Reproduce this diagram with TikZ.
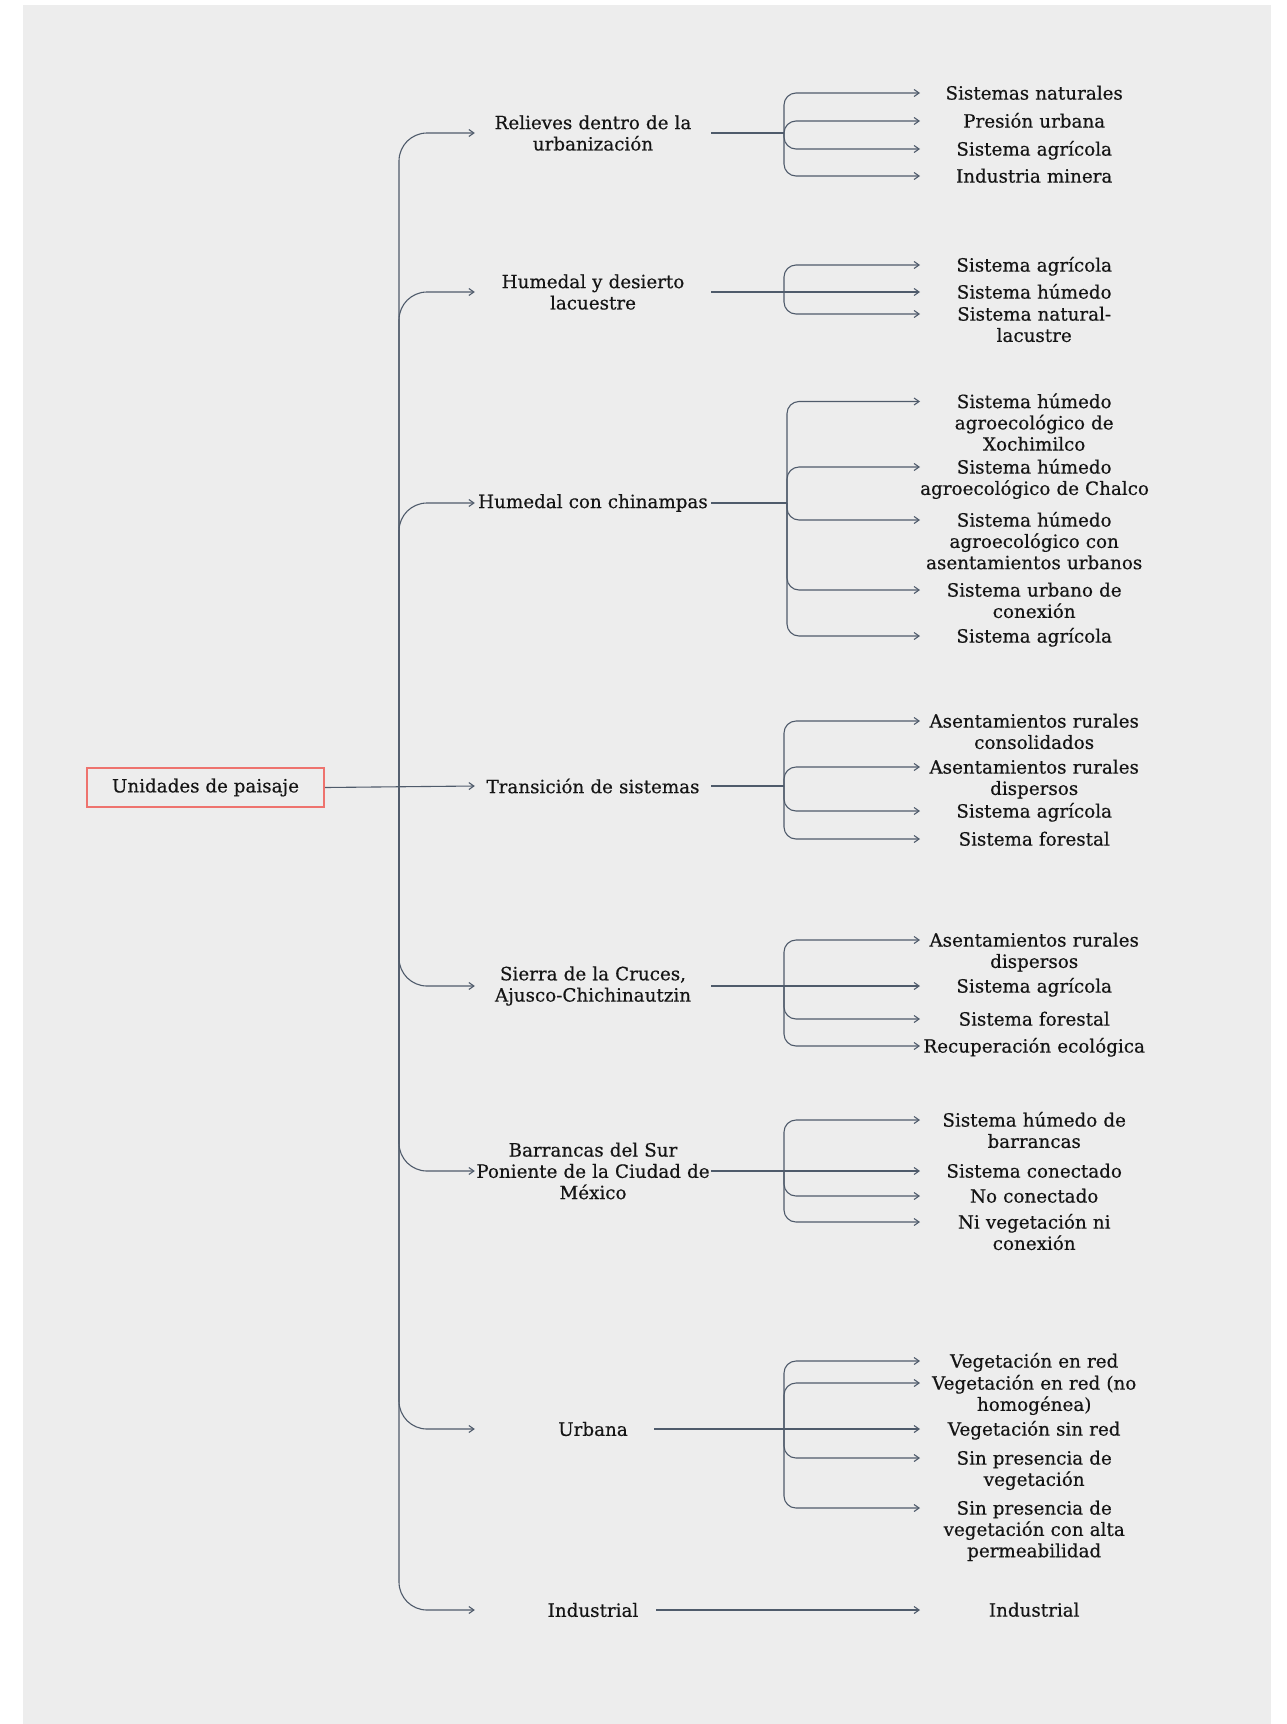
\documentclass[tikz,border=0pt]{standalone}
\usepackage{fontspec}
\setmainfont{DejaVu Serif}[FakeBold=0.45]
\usetikzlibrary{arrows.meta}
\definecolor{bg}{HTML}{EDEDED}
\definecolor{ln}{HTML}{4F5B6B}
\definecolor{rootc}{HTML}{EE736E}
\definecolor{txt}{HTML}{151515}
\begin{document}
\begin{tikzpicture}[x=1pt,y=-1pt,
  every node/.style={font=\fontsize{18.3}{21.3}\selectfont, text=txt, inner sep=0pt},
  rootbox/.style={draw=rootc, line width=2pt, minimum width=237pt, minimum height=39pt},
  parent/.style={text width=236pt, align=center},
  leaf/.style={text width=228pt, align=center, anchor=mid west},
  link/.style={draw=ln, line width=1.1pt},
  arr/.style={link, -{Straight Barb[length=5pt,width=7pt]}},
  trunkarr/.style={arr, rounded corners=28pt},
  brancharr/.style={arr, rounded corners=12pt},
  tip/.style={yshift=4pt},
]
\useasboundingbox (0,0) rectangle (1287,1724);
\fill[white] (0,0) rectangle (1287,1724);
\fill[bg] (23,5) rectangle (1271,1724);

% root
\node[rootbox] (root) at (205.5,787.5) {Unidades de paisaje};
\coordinate (J0) at (399,787.5);

% parents
\node[parent] (p1) at (593,133) {Relieves dentro de la\\urbanización};
\node[parent] (p2) at (593,292) {Humedal y desierto\\lacuestre};
\node[parent] (p3) at (593,503) {Humedal~con~chinampas};
\node[parent] (p4) at (593,786) {Transición de sistemas};
\node[parent] (p5) at (593,986) {Sierra de la Cruces,\\Ajusco-Chichinautzin};
\node[parent] (p6) at (593,1171) {Barrancas del Sur\\Poniente~de~la~Ciudad~de\\México};
\node[parent] (p7) at (593,1429) {Urbana};
\node[parent] (p8) at (593,1610) {Industrial};

% junctions
\coordinate (J1) at (784,133);
\coordinate (J2) at (784,292);
\coordinate (J3) at (787,503);
\coordinate (J4) at (784,786);
\coordinate (J5) at (784,986);
\coordinate (J6) at (784,1171);
\coordinate (J7) at (784,1429);

% leaves (node placed 4 below the arrow line)
\node[leaf] (l11) at (920,97) {Sistemas naturales};
\node[leaf] (l12) at (920,125) {Presión urbana};
\node[leaf] (l13) at (920,153) {Sistema agrícola};
\node[leaf] (l14) at (920,180) {Industria minera};

\node[leaf] (l21) at (920,269) {Sistema agrícola};
\node[leaf] (l22) at (920,296) {Sistema húmedo};
\node[leaf] (l23) at (920,318) {Sistema natural-\\lacustre};

\node[leaf] (l31) at (920,405.5) {Sistema húmedo\\agroecológico de\\Xochimilco};
\node[leaf] (l32) at (920,471) {Sistema húmedo\\agroecológico~de~Chalco};
\node[leaf] (l33) at (920,524) {Sistema húmedo\\agroecológico con\\asentamientos~urbanos};
\node[leaf] (l34) at (920,594) {Sistema urbano de\\conexión};
\node[leaf] (l35) at (920,640) {Sistema agrícola};

\node[leaf] (l41) at (920,725) {Asentamientos~rurales\\consolidados};
\node[leaf] (l42) at (920,771) {Asentamientos~rurales\\dispersos};
\node[leaf] (l43) at (920,815) {Sistema agrícola};
\node[leaf] (l44) at (920,843) {Sistema forestal};

\node[leaf] (l51) at (920,944) {Asentamientos~rurales\\dispersos};
\node[leaf] (l52) at (920,990) {Sistema agrícola};
\node[leaf] (l53) at (920,1023) {Sistema forestal};
\node[leaf] (l54) at (920,1050) {Recuperación~ecológica};

\node[leaf] (l61) at (920,1124) {Sistema húmedo de\\barrancas};
\node[leaf] (l62) at (920,1175) {Sistema conectado};
\node[leaf] (l63) at (920,1200) {No conectado};
\node[leaf] (l64) at (920,1226) {Ni vegetación ni\\conexión};

\node[leaf] (l71) at (920,1365) {Vegetación en red};
\node[leaf] (l72) at (920,1387) {Vegetación en red (no\\homogénea)};
\node[leaf] (l73) at (920,1433) {Vegetación sin red};
\node[leaf] (l74) at (920,1462) {Sin presencia de\\vegetación};
\node[leaf] (l75) at (920,1512) {Sin presencia de\\vegetación con alta\\permeabilidad};

\node[leaf] (l81) at (920,1614) {Industrial};

% root to parents
\draw[arr] (root.east) -- (p4.west);
\foreach \p in {p1,p2,p3,p5,p6,p7,p8}{\draw[trunkarr] (J0) |- (\p.west);}

% parents to junctions
\foreach \p/\j in {p1/J1,p2/J2,p3/J3,p4/J4,p5/J5,p6/J6}{\draw[link] (\p.east) -- (\j);}
\draw[link] ([xshift=-57pt]p7.east) -- (J7);
\draw[arr] ([xshift=-55pt]p8.east) -- ([tip]l81.mid west);

% junctions to leaves
\foreach \l in {l11,l12,l13,l14}{\draw[brancharr] (J1) |- ([tip]\l.mid west);}
\foreach \l in {l21,l23}{\draw[brancharr] (J2) |- ([tip]\l.mid west);}
\draw[arr] (J2) -- ([tip]l22.mid west);
\foreach \l in {l31,l32,l33,l34,l35}{\draw[brancharr] (J3) |- ([tip]\l.mid west);}
\foreach \l in {l41,l42,l43,l44}{\draw[brancharr] (J4) |- ([tip]\l.mid west);}
\foreach \l in {l51,l53,l54}{\draw[brancharr] (J5) |- ([tip]\l.mid west);}
\draw[arr] (J5) -- ([tip]l52.mid west);
\foreach \l in {l61,l63,l64}{\draw[brancharr] (J6) |- ([tip]\l.mid west);}
\draw[arr] (J6) -- ([tip]l62.mid west);
\foreach \l in {l71,l72,l74,l75}{\draw[brancharr] (J7) |- ([tip]\l.mid west);}
\draw[arr] (J7) -- ([tip]l73.mid west);
\end{tikzpicture}
\end{document}
